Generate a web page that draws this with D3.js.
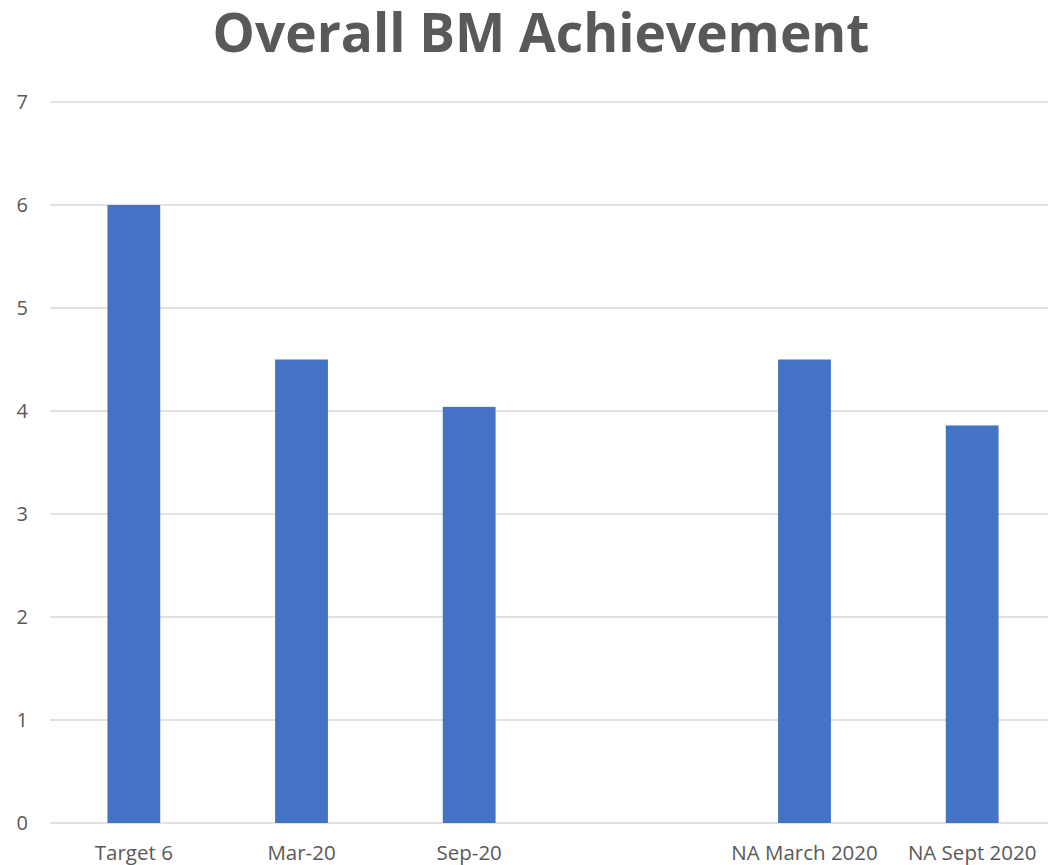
<!DOCTYPE html>
<html>
<head>
<meta charset="utf-8">
<script src="https://cdn.jsdelivr.net/npm/d3@7"></script>
<style>
  html, body { margin: 0; padding: 0; background: #fff; }
  svg { display: block; }
</style>
</head>
<body>
<svg id="chart" width="1048" height="865"></svg>
<script>
const categories = ["Target 6", "Mar-20", "Sep-20", "", "NA March 2020", "NA Sept 2020"];
const values = [6, 4.5, 4.04, null, 4.5, 3.86];
const yTicks = [0, 1, 2, 3, 4, 5, 6, 7];
const title = "Overall BM Achievement";

(function () {
const svg = d3.select("#chart");
const W = 1048;
const mLeft = 50, mRight = 1056, mTop = 102, mBottom = 823;

const x = d3.scaleBand().domain(d3.range(categories.length)).range([mLeft, mRight]).paddingInner(0.685).paddingOuter(0.3425);
const y = d3.scaleLinear().domain([0, 7]).range([mBottom, mTop]);

// gridlines
svg.append("g").selectAll("line").data(yTicks).join("line")
  .attr("x1", mLeft).attr("x2", W)
  .attr("y1", d => y(d)).attr("y2", d => y(d))
  .attr("stroke", "#d9d9d9").attr("stroke-width", 1.5);

// y labels
const yAxis = d3.axisLeft(y).tickValues(yTicks).tickFormat(d3.format("d")).tickSize(0).tickPadding(0);
const ga = svg.append("g").attr("transform", `translate(28,0)`).call(yAxis);
ga.select(".domain").remove();
ga.selectAll("text").attr("font-family", "Open Sans, sans-serif").attr("font-size", 20).attr("fill", "#595959");

// bars
const data = values.map((v, i) => ({i, v})).filter(d => d.v != null);
svg.append("g").selectAll("rect").data(data).join("rect")
  .attr("x", d => x(d.i)).attr("width", x.bandwidth())
  .attr("y", d => y(d.v)).attr("height", d => y(0) - y(d.v))
  .attr("fill", "#4472c4");

// x labels
const xAxis = d3.axisBottom(x).tickFormat(i => categories[i]).tickSize(0).tickPadding(0);
const gx = svg.append("g").attr("transform", `translate(0,${mBottom})`).call(xAxis);
gx.select(".domain").remove();
gx.selectAll("text").attr("dy", null).attr("y", 37)
  .attr("font-family", "Open Sans, sans-serif").attr("font-size", 20.5).attr("fill", "#595959");

// title
const t = svg.append("text").attr("x", 541).attr("y", 52).attr("text-anchor", "middle")
  .attr("font-family", "Open Sans, sans-serif").attr("font-weight", "bold")
  .attr("font-size", 56).attr("fill", "#595959").text(title);
const tw = t.node().getComputedTextLength();
t.attr("font-size", 56 * 657 / tw);
})();
</script>
</body>
</html>
